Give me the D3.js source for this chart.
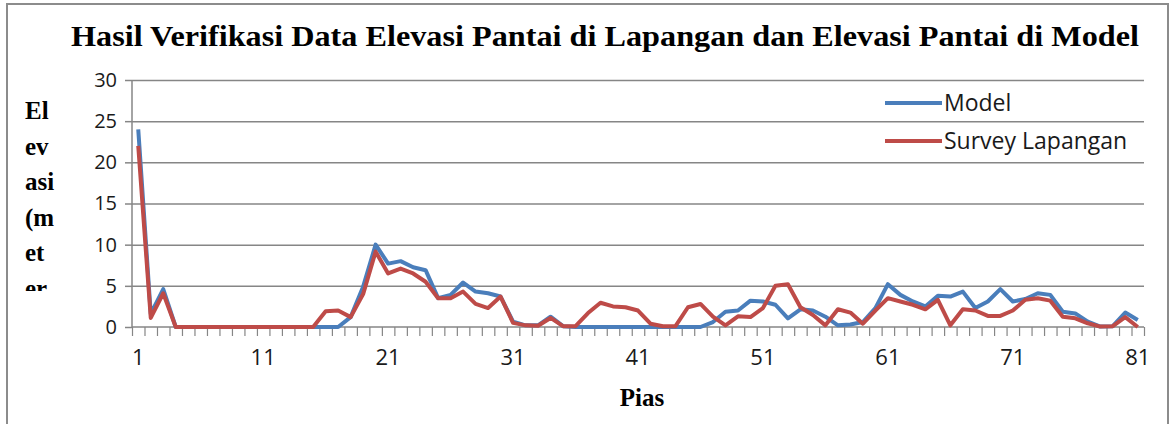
<!DOCTYPE html>
<html>
<head>
<meta charset="utf-8">
<script src="https://cdn.jsdelivr.net/npm/d3@7"></script>
<style>
  html, body { margin: 0; padding: 0; background: #fff; }
  svg { display: block; }
</style>
</head>
<body>
<div id="chart"></div>
<script>
// Data (Pias 1..81, elevation in metres)
const PIAS = d3.range(1, 82);
const MODEL = [
  24.0, 1.6, 4.6, 0, 0, 0, 0, 0, 0, 0,
  0, 0, 0, 0, 0, 0, 0, 1.2, 4.9, 10.0,
  7.7, 8.0, 7.25, 6.9, 3.5, 3.9, 5.4, 4.3, 4.1, 3.7,
  0.65, 0.2, 0.2, 1.25, 0.1, 0, 0, 0, 0, 0,
  0, 0, 0, 0, 0, 0, 0.6, 1.85, 2.0, 3.2,
  3.1, 2.7, 1.05, 2.15, 2.0, 1.25, 0.2, 0.3, 0.6, 2.3,
  5.2, 3.9, 3.1, 2.5, 3.8, 3.7, 4.3, 2.3, 3.1, 4.6,
  3.1, 3.4, 4.1, 3.9, 1.85, 1.65, 0.65, 0.05, 0.1, 1.75,
  0.85
];
const SURVEY = [
  22.0, 1.1, 4.1, 0, 0, 0, 0, 0, 0, 0,
  0, 0, 0, 0, 0, 1.9, 2.0, 1.2, 4.0, 9.15,
  6.5, 7.1, 6.5, 5.5, 3.5, 3.5, 4.3, 2.8, 2.3, 3.7,
  0.5, 0.2, 0.15, 1.1, 0.1, 0.1, 1.7, 2.95, 2.5, 2.4,
  2.0, 0.4, 0.1, 0.1, 2.4, 2.8, 1.25, 0.2, 1.3, 1.2,
  2.3, 5.0, 5.2, 2.4, 1.45, 0.2, 2.15, 1.75, 0.4, 2.0,
  3.5, 3.1, 2.7, 2.15, 3.3, 0.2, 2.15, 2.0, 1.35, 1.35,
  2.0, 3.3, 3.5, 3.2, 1.25, 1.05, 0.45, 0.05, 0.1, 1.2,
  0
];
const X_LABELS = [1, 11, 21, 31, 41, 51, 61, 71, 81];
const Y_TICKS = [0, 5, 10, 15, 20, 25, 30];
const Y_TITLE_LINES = ['El', 'ev', 'asi', '(m', 'et', 'er', ')'];

const SERIES = [
  { label: 'Model', values: MODEL, color: '#4A7EBB' },
  { label: 'Survey Lapangan', values: SURVEY, color: '#BE4B48' },
];

const W = 1176, H = 424;
const plot = { left: 132, right: 1144, top: 80, bottom: 327 };

const svg = d3.select('#chart').append('svg')
  .attr('width', W).attr('height', H);

// outer frame
svg.append('rect')
  .attr('x', 7).attr('y', 4)
  .attr('width', 1161).attr('height', 440)
  .attr('fill', 'none')
  .attr('stroke', '#8c8c8c')
  .attr('stroke-width', 2);

// Scales
const x = d3.scaleBand().domain(PIAS).range([plot.left, plot.right]);
const xEdge = d3.scaleLinear().domain([0.5, 81.5]).range([plot.left, plot.right]);
const y = d3.scaleLinear().domain([0, 30]).range([plot.bottom, plot.top]);
const cx = d => x(d) + x.bandwidth() / 2;

// Grid
svg.append('g')
  .attr('transform', `translate(${plot.left},0)`)
  .call(d3.axisLeft(y).tickValues(Y_TICKS.slice(1)).tickSize(-(plot.right - plot.left)).tickFormat(''))
  .call(g => g.select('.domain').remove())
  .call(g => g.selectAll('line').attr('stroke', '#868686').attr('stroke-width', 1.5));

// Y axis
svg.append('g')
  .attr('transform', `translate(${plot.left},0)`)
  .call(d3.axisLeft(y).tickValues(Y_TICKS).tickSize(7).tickPadding(8))
  .call(g => g.select('.domain').attr('stroke', '#868686').attr('stroke-width', 1.5)
    .attr('d', `M0,${plot.top}V${plot.bottom}`))
  .call(g => g.selectAll('line').attr('stroke', '#868686').attr('stroke-width', 1.5))
  .call(g => g.selectAll('text')
    .attr('fill', '#1a1a1a')
    .style('font-family', "'Open Sans', sans-serif")
    .style('font-size', '20px'));

// X axis: tick marks on category boundaries
svg.append('g')
  .attr('transform', `translate(0,${plot.bottom})`)
  .call(d3.axisBottom(xEdge).tickValues(d3.range(0.5, 82, 1)).tickSize(9).tickFormat(''))
  .call(g => g.select('.domain').attr('stroke', '#868686').attr('stroke-width', 1.5)
    .attr('d', `M${plot.left},0H${plot.right}`))
  .call(g => g.selectAll('line').attr('stroke', '#868686').attr('stroke-width', 1.2));

// X labels at category centres
svg.append('g')
  .attr('transform', `translate(0,${plot.bottom})`)
  .call(d3.axisBottom(x).tickValues(X_LABELS).tickSize(0).tickPadding(22))
  .call(g => g.select('.domain').remove())
  .call(g => g.selectAll('text')
    .attr('fill', '#1a1a1a')
    .style('font-family', "'Open Sans', sans-serif")
    .style('font-size', '22px'));

// Lines
const line = d3.line()
  .x((d, i) => cx(PIAS[i]))
  .y(d => y(d));

SERIES.forEach(s => {
  svg.append('path')
    .datum(s.values)
    .attr('d', line)
    .attr('fill', 'none')
    .attr('stroke', s.color)
    .attr('stroke-width', 4)
    .attr('stroke-linejoin', 'round');
});

// Legend
const legend = svg.append('g').attr('transform', 'translate(885,103)');
SERIES.forEach((s, i) => {
  const row = legend.append('g').attr('transform', `translate(0,${i * 38})`);
  row.append('line')
    .attr('x1', 0).attr('x2', 57)
    .attr('stroke', s.color).attr('stroke-width', 4);
  row.append('text')
    .attr('x', 59).attr('y', 8)
    .attr('fill', '#1a1a1a')
    .style('font-family', "'Open Sans', sans-serif")
    .style('font-size', '23px')
    .text(s.label);
});

// Title
svg.append('text')
  .attr('x', 605).attr('y', 46)
  .attr('text-anchor', 'middle')
  .attr('textLength', 1068)
  .attr('lengthAdjust', 'spacingAndGlyphs')
  .style('font-family', "'Liberation Serif', 'Times New Roman', serif")
  .style('font-weight', 'bold')
  .style('font-size', '30px')
  .text('Hasil Verifikasi Data Elevasi Pantai di Lapangan dan Elevasi Pantai di Model');

// Y title (wrapped, clipped like the original text box)
svg.append('clipPath').attr('id', 'ytitle-clip')
  .append('rect').attr('x', 0).attr('y', 80).attr('width', 80).attr('height', 211);
const yTitle = svg.append('g').attr('clip-path', 'url(#ytitle-clip)');
yTitle.selectAll('text')
  .data(Y_TITLE_LINES)
  .join('text')
  .attr('x', 25)
  .attr('y', (d, i) => 119 + i * 35.5)
  .style('font-family', "'Liberation Serif', 'Times New Roman', serif")
  .style('font-weight', 'bold')
  .style('font-size', '25px')
  .text(d => d);

// X title
svg.append('text')
  .attr('x', 642).attr('y', 406)
  .attr('text-anchor', 'middle')
  .style('font-family', "'Liberation Serif', 'Times New Roman', serif")
  .style('font-weight', 'bold')
  .style('font-size', '25px')
  .text('Pias');
</script>
</body>
</html>
